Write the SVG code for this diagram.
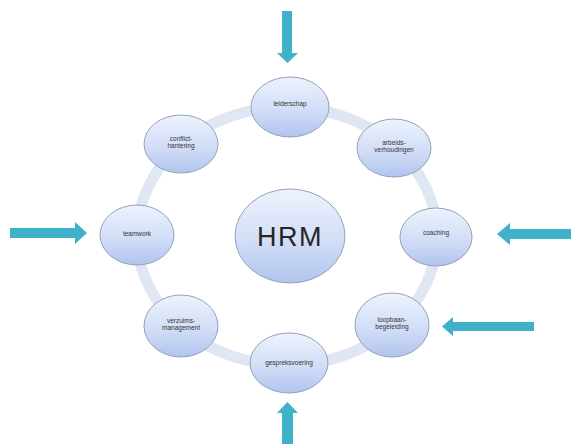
<svg xmlns="http://www.w3.org/2000/svg" width="571" height="444" viewBox="0 0 571 444">
<style>
.node{fill:url(#g);stroke:#95a2b8;stroke-width:1}
.lbl{font-family:"Liberation Sans",Arial,sans-serif;font-size:6.5px;fill:#333;text-anchor:middle}
.arr{fill:#3fb1c8}
</style>
<defs>
<linearGradient id="g" x1="0" y1="0" x2="0" y2="1">
<stop offset="0" stop-color="#edf2fd"/>
<stop offset="0.55" stop-color="#d2def7"/>
<stop offset="1" stop-color="#b1c4ee"/>
</linearGradient>
</defs>
<rect width="571" height="444" fill="#fff"/>
<ellipse cx="287" cy="236" rx="150" ry="129" fill="none" stroke="#dfe7f4" stroke-width="11"/>
<g id="connectors">
<path class="arr" d="M282,11H292V53H298L287.5,63L277,53H282Z"/>
<path class="arr" d="M282,444V413H277L287.5,402L298,413H293V444Z"/>
<path class="arr" d="M10,228H75V222L87,233L75,244V238H10Z"/>
<path class="arr" d="M571,229H510V223L497,234L510,245V239H571Z"/>
<path class="arr" d="M534,322H453V317L442,326.5L453,336V331H534Z"/>
</g>
<g id="hrm"><ellipse class="node" cx="290" cy="236" rx="55" ry="47"/><text x="290" y="246" font-family="Liberation Sans,Arial,sans-serif" font-size="27" fill="#262626" text-anchor="middle" letter-spacing="1.5">HRM</text></g>
<g id="leiderschap"><ellipse class="node" cx="290" cy="107" rx="39" ry="30"/><text class="lbl" x="290" y="106">leiderschap</text></g>
<g id="conflicthantering"><ellipse class="node" cx="181" cy="144" rx="37" ry="29"/><text class="lbl" x="181" y="141">conflict-</text><text class="lbl" x="181" y="148">hantering</text></g>
<g id="arbeidsverhoudingen"><ellipse class="node" cx="394" cy="148" rx="37" ry="29"/><text class="lbl" x="394" y="145">arbeids-</text><text class="lbl" x="394" y="152">verhoudingen</text></g>
<g id="teamwork"><ellipse class="node" cx="137" cy="235" rx="37" ry="30"/><text class="lbl" x="137" y="236">teamwork</text></g>
<g id="coaching"><ellipse class="node" cx="436" cy="237" rx="36" ry="29"/><text class="lbl" x="436" y="235">coaching</text></g>
<g id="verzuimsmanagement"><ellipse class="node" cx="181" cy="326" rx="37" ry="31"/><text class="lbl" x="181" y="323">verzuims-</text><text class="lbl" x="181" y="330">management</text></g>
<g id="loopbaanbegeleiding"><ellipse class="node" cx="392" cy="325" rx="37" ry="32"/><text class="lbl" x="392" y="322">loopbaan-</text><text class="lbl" x="392" y="329">begeleiding</text></g>
<g id="gespreksvoering"><ellipse class="node" cx="289" cy="363" rx="39" ry="30"/><text class="lbl" x="289" y="365">gespreksvoering</text></g>
</svg>
